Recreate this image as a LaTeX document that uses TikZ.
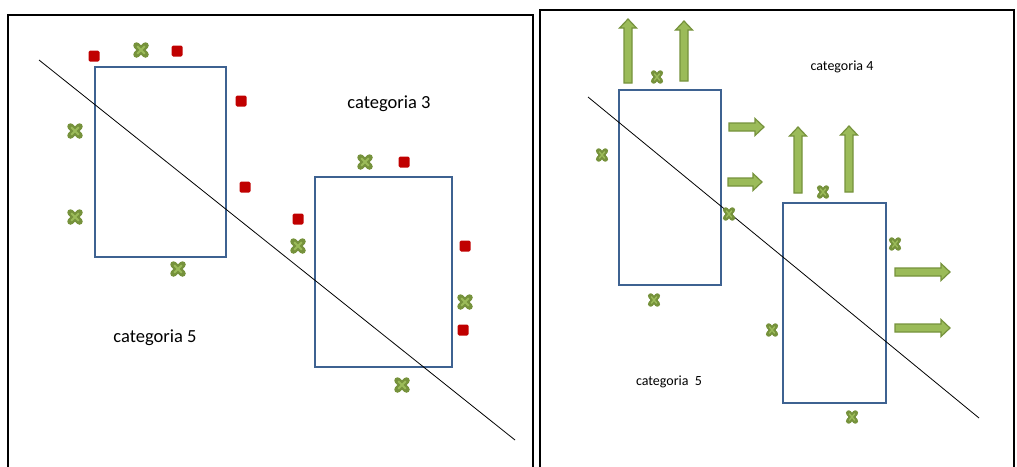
\documentclass[tikz,border=0pt]{standalone}
\usepackage{fontspec}
\setmainfont{Carlito}
\definecolor{boxblue}{RGB}{62,98,145}
\definecolor{sqred}{RGB}{192,0,0}
\definecolor{xdk}{RGB}{118,146,60}
\definecolor{xlt}{RGB}{155,187,89}
\begin{document}
\begin{tikzpicture}[x=1pt,y=-1pt,
  frame/.style={draw=black,line width=1.8pt},
  lbox/.style={draw=boxblue,line width=2.8pt,inner sep=0pt},
  rbox/.style={draw=boxblue,line width=2.1pt,inner sep=0pt},
  rsq/.style={fill=sqred,minimum size=11pt,inner sep=0pt,rounded corners=1.5pt},
  lbl/.style={font=\fontsize{18.5}{22}\selectfont},
  rlbl/.style={font=\fontsize{14}{17}\selectfont},
  diag/.style={draw=black,line width=0.8pt},
  arw/.style={fill=xlt,draw=xdk,line width=1.2pt,line join=miter},
  pics/xmark/.style={code={
    \draw[line width=6.5pt,xdk,line cap=round] (-4.5,-4.5)--(4.5,4.5) (-4.5,4.5)--(4.5,-4.5);
    \draw[line width=1.8pt,xlt] (-3.8,-3.8)--(3.8,3.8) (-3.8,3.8)--(3.8,-3.8);}},
  pics/xsmall/.style={code={
    \draw[line width=5.5pt,xdk,line cap=round] (-3.3,-4)--(3.3,4) (-3.3,4)--(3.3,-4);
    \draw[line width=1.4pt,xlt] (-2.8,-3.4)--(2.8,3.4) (-2.8,3.4)--(2.8,-3.4);}},
  pics/barrow/.style={code={
    \draw[arw] (0,-4) -- ({#1-9},-4) -- ({#1-9},-8.5) -- (#1,0) -- ({#1-9},8.5) -- ({#1-9},4) -- (0,4) -- cycle;}}
]
\useasboundingbox (0,0) rectangle (1017,466);
% frames
\draw[frame] (8,470) -- (8,15) -- (533,15) -- (533,470);
\draw[frame] (540,470) -- (540,10) -- (1014,10) -- (1014,470);

% ---------- left panel ----------
\node[lbox,minimum width=131pt,minimum height=190pt] (b1) at (160.5,162) {};
\node[lbox,minimum width=137pt,minimum height=190pt] (b2) at (383.5,272) {};
\coordinate (d1s) at (39,60);
\coordinate (d1e) at (515,440);
\draw[diag] (d1s) -- (d1e);

\foreach \n/\x/\y in {r1/94/56, r2/177/51, r3/241/101, r4/245/187, r5/298/219, r6/404/162, r7/465/246, r8/463/330}
  \node[rsq] (\n) at (\x,\y) {};
\foreach \x/\y in {141/50, 75/131, 75/217, 178/269, 365/162, 298/246, 465/302, 402/385}
  \pic at (\x,\y) {xmark};

\node[lbl] (c3) at (389,104) {categoria 3};
\node[lbl] (c5a) at (155,338) {categoria 5};

% ---------- right panel ----------
\node[rbox,minimum width=102pt,minimum height=195pt] (b3) at (670,187.5) {};
\node[rbox,minimum width=103pt,minimum height=200pt] (b4) at (834.5,303) {};
\coordinate (d2s) at (588,97);
\coordinate (d2e) at (979,418);
\draw[diag] (d2s) -- (d2e);

\pic[rotate=90] at (628,83) {barrow=64};
\pic[rotate=90] at (684,81) {barrow=60};
\pic[rotate=90] at (798,193) {barrow=66};
\pic[rotate=90] at (849,192) {barrow=66};
\pic at (729,127) {barrow=35};
\pic at (728,182) {barrow=34};
\pic at (895,272) {barrow=55};
\pic at (895,328) {barrow=55};

\foreach \x/\y in {657/77, 602/155, 729/214, 654/300, 823/192, 895/244, 772/330, 852/417}
  \pic at (\x,\y) {xsmall};

\node[rlbl] (c4) at (842,67) {categoria 4};
\node[rlbl] (c5b) at (669,382) {categoria\ \ 5};
\end{tikzpicture}
\end{document}
